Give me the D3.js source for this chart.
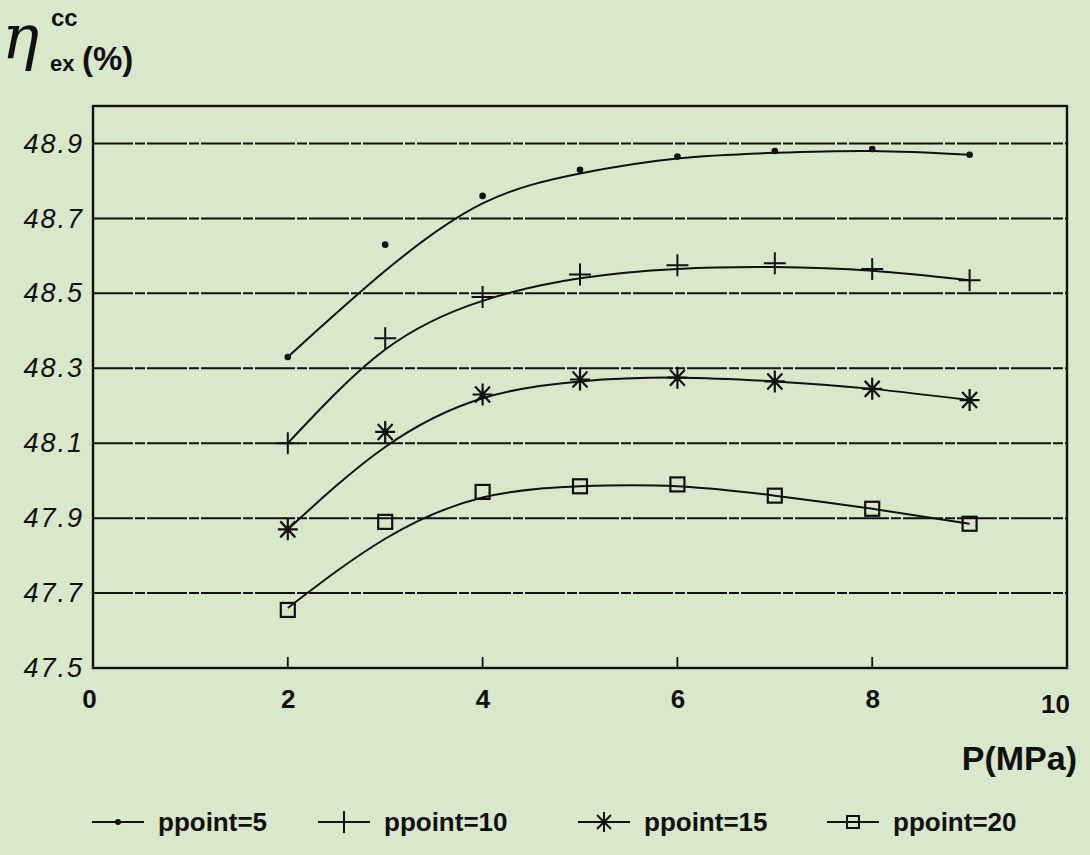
<!DOCTYPE html>
<html>
<head>
<meta charset="utf-8">
<script src="https://cdn.jsdelivr.net/npm/d3@7/dist/d3.min.js"></script>
<style>
  html, body { margin: 0; padding: 0; background: #d9e7cb; }
  svg { display: block; }
</style>
</head>
<body>
<div id="chart"></div>
<script>
// pressure values (MPa)
var pressure = [2, 3, 4, 5, 6, 7, 8, 9];

// measured points, one array per pinch point
var pp5  = [48.33, 48.63, 48.76, 48.83, 48.865, 48.88, 48.885, 48.87];
var pp10 = [48.10, 48.38, 48.49, 48.55, 48.575, 48.58, 48.565, 48.535];
var pp15 = [47.87, 48.13, 48.23, 48.27, 48.275, 48.265, 48.245, 48.215];
var pp20 = [47.655, 47.89, 47.97, 47.985, 47.99, 47.96, 47.925, 47.885];

// fitted curves
var fit5  = [48.33, 48.56, 48.74, 48.82, 48.86, 48.875, 48.88, 48.87];
var fit10 = [48.10, 48.35, 48.48, 48.54, 48.565, 48.57, 48.56, 48.535];
var fit15 = [47.87, 48.09, 48.22, 48.265, 48.275, 48.265, 48.245, 48.215];
var fit20 = [47.66, 47.845, 47.955, 47.985, 47.985, 47.96, 47.925, 47.885];

var seriesNames = ["ppoint=5", "ppoint=10", "ppoint=15", "ppoint=20"];
var markerTypes = ["dot", "plus", "star", "square"];

var xTicks = [0, 2, 4, 6, 8, 10];
var yTicks = [47.5, 47.7, 47.9, 48.1, 48.3, 48.5, 48.7, 48.9];

function init() {
    var w = 1090;
    var h = 855;
    var left = 93, right = 1067, top = 106, bottom = 668;
    var ink = "#111";
    var font = "Liberation Sans, Arial, sans-serif";

    var xScale = d3.scaleLinear().domain([0, 10]).range([left, right]);
    var yScale = d3.scaleLinear().domain([47.5, 49.0]).range([bottom, top]);

    var svg = d3.select("#chart")
                .append("svg")
                .attr("width", w)
                .attr("height", h);

    svg.append("rect")
       .attr("width", w).attr("height", h)
       .attr("fill", "#d9e7cb");

    // horizontal grid lines
    svg.append("g")
       .selectAll("line")
       .data(yTicks.slice(1))
       .enter()
       .append("line")
       .attr("x1", left).attr("x2", right)
       .attr("y1", function(d) { return yScale(d); })
       .attr("y2", function(d) { return yScale(d); })
       .attr("stroke", ink)
       .attr("stroke-width", 2)
       .attr("stroke-dasharray", "40 2 10 2");

    // x axis: short ticks pointing up, labels below
    var xAxis = d3.axisBottom(xScale)
                  .tickValues(xTicks)
                  .tickSize(0)
                  .tickPadding(22)
                  .tickFormat(d3.format("d"));
    var gx = svg.append("g")
       .attr("transform", "translate(0," + bottom + ")")
       .call(xAxis);
    gx.select(".domain").remove();
    gx.selectAll("text")
      .attr("font-family", font)
      .attr("font-weight", "bold")
      .attr("font-size", 26)
      .attr("fill", ink)
      .attr("dx", function(d) { return d === 10 ? -12 : (d === 0 ? -4 : 0); })
      .attr("dy", function(d) { return d === 10 ? "0.9em" : "0.71em"; });

    svg.append("g")
       .selectAll("line")
       .data([2, 4, 6, 8])
       .enter()
       .append("line")
       .attr("x1", function(d) { return xScale(d); })
       .attr("x2", function(d) { return xScale(d); })
       .attr("y1", bottom)
       .attr("y2", bottom - 11)
       .attr("stroke", ink)
       .attr("stroke-width", 1.8);

    // y axis labels
    var yAxis = d3.axisLeft(yScale)
                  .tickValues(yTicks)
                  .tickSize(0)
                  .tickPadding(9)
                  .tickFormat(d3.format(".1f"));
    var gy = svg.append("g")
       .attr("transform", "translate(" + left + ",0)")
       .call(yAxis);
    gy.select(".domain").remove();
    gy.selectAll("text")
      .attr("font-family", font)
      .attr("font-style", "italic")
      .attr("font-size", 27)
      .attr("letter-spacing", 2)
      .attr("fill", ink);

    // frame
    svg.append("rect")
       .attr("x", left).attr("y", top)
       .attr("width", right - left).attr("height", bottom - top)
       .attr("fill", "none")
       .attr("stroke", ink)
       .attr("stroke-width", 2.4);

    function drawMarker(g, type) {
        if (type === "dot") {
            g.append("circle").attr("r", 3.3).attr("fill", ink);
        } else if (type === "plus") {
            g.append("path").attr("d", "M-11,0H11M0,-11V11")
             .attr("stroke", ink).attr("stroke-width", 2).attr("fill", "none");
        } else if (type === "star") {
            g.append("path").attr("d", "M-10,0H10M0,-11V11M-7.5,-8L7.5,8M-7.5,8L7.5,-8")
             .attr("stroke", ink).attr("stroke-width", 2.2).attr("fill", "none");
        } else {
            g.append("rect").attr("x", -7).attr("y", -7).attr("width", 14).attr("height", 14)
             .attr("stroke", ink).attr("stroke-width", 2.2).attr("fill", "none");
        }
    }

    var line = d3.line()
                 .x(function(d) { return xScale(d[0]); })
                 .y(function(d) { return yScale(d[1]); })
                 .curve(d3.curveNatural);

    var fits = [fit5, fit10, fit15, fit20];
    var points = [pp5, pp10, pp15, pp20];

    fits.forEach(function(f) {
        svg.append("path")
           .datum(d3.zip(pressure, f))
           .attr("d", line)
           .attr("fill", "none")
           .attr("stroke", ink)
           .attr("stroke-width", 2);
    });

    points.forEach(function(p, i) {
        svg.append("g")
           .selectAll("g")
           .data(d3.zip(pressure, p))
           .enter()
           .append("g")
           .attr("transform", function(d) {
               return "translate(" + xScale(d[0]) + "," + yScale(d[1]) + ")";
           })
           .each(function() { drawMarker(d3.select(this), markerTypes[i]); });
    });

    // axis titles
    svg.append("text")
       .attr("x", 1077).attr("y", 770)
       .attr("text-anchor", "end")
       .attr("font-family", font)
       .attr("font-weight", "bold")
       .attr("font-size", 34)
       .attr("fill", ink)
       .text("P(MPa)");

    var title = svg.append("g").attr("fill", ink)
                   .attr("font-family", font);
    title.append("text")
         .attr("x", 2).attr("y", 58)
         .attr("font-family", "DejaVu Serif, serif")
         .attr("font-style", "italic")
         .attr("font-size", 62)
         .text("η");
    title.append("text")
         .attr("x", 51).attr("y", 26)
         .attr("font-weight", "bold").attr("font-size", 24)
         .text("cc");
    title.append("text")
         .attr("x", 50).attr("y", 71)
         .attr("font-weight", "bold").attr("font-size", 22)
         .text("ex");
    title.append("text")
         .attr("x", 82).attr("y", 70)
         .attr("font-weight", "bold").attr("font-size", 33)
         .text("(%)");

    // legend
    var legendX = [92, 318, 578, 827];
    var legendY = 822;
    var legend = svg.append("g")
       .selectAll("g")
       .data(seriesNames)
       .enter()
       .append("g")
       .attr("transform", function(d, i) { return "translate(" + legendX[i] + "," + legendY + ")"; });

    legend.append("line")
          .attr("x1", 0).attr("x2", 52)
          .attr("stroke", ink).attr("stroke-width", 2);
    legend.append("g")
          .attr("transform", "translate(26,0)")
          .each(function(d, i) {
              var g = d3.select(this);
              if (markerTypes[i] === "dot") {
                  g.append("circle").attr("r", 3).attr("fill", ink);
              } else if (markerTypes[i] === "plus") {
                  g.append("path").attr("d", "M0,-11V11").attr("stroke", ink).attr("stroke-width", 2);
              } else if (markerTypes[i] === "star") {
                  g.append("path").attr("d", "M0,-10V10M-7,-7L7,7M-7,7L7,-7")
                   .attr("stroke", ink).attr("stroke-width", 2);
              } else {
                  g.append("rect").attr("x", -6).attr("y", -6).attr("width", 12).attr("height", 12)
                   .attr("stroke", ink).attr("stroke-width", 2).attr("fill", "none");
              }
          });
    legend.append("text")
          .attr("x", 66).attr("y", 9)
          .attr("font-family", font)
          .attr("font-weight", "bold")
          .attr("font-size", 26)
          .attr("fill", ink)
          .text(function(d) { return d; });
}

window.onload = init;
</script>
</body>
</html>
